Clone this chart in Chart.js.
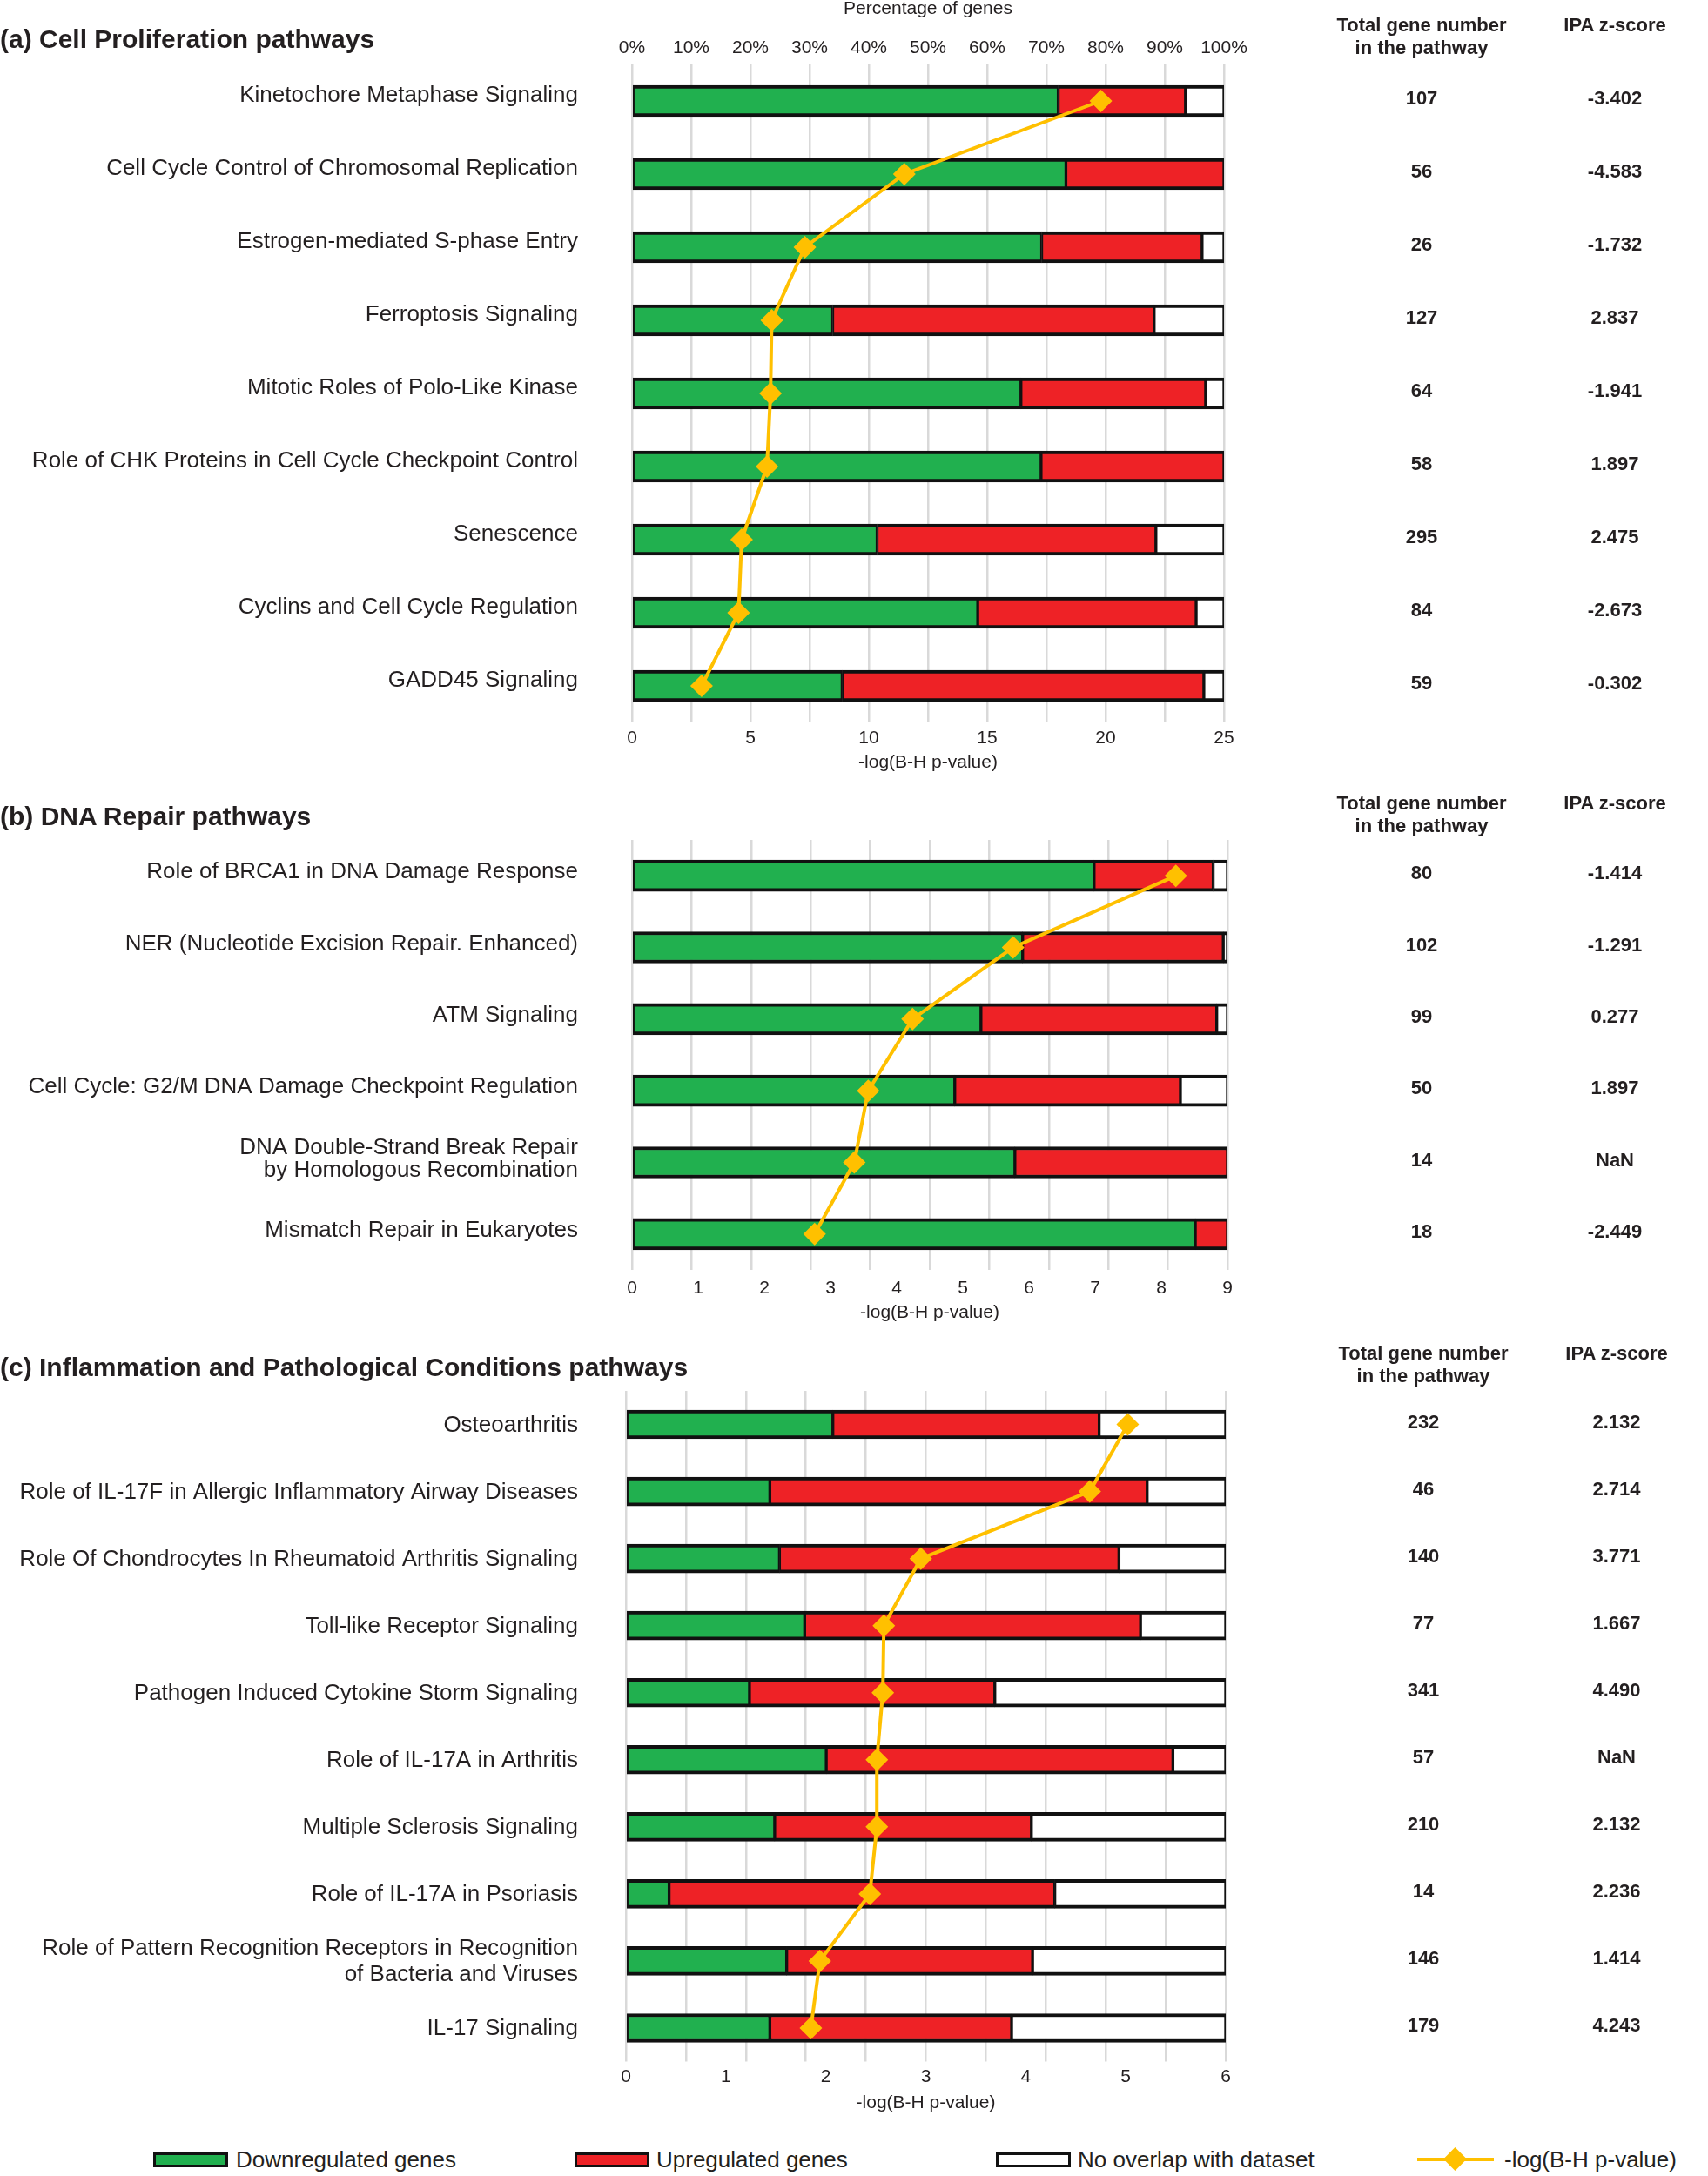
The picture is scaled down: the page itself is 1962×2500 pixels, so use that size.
<!DOCTYPE html>
<html>
<head>
<meta charset="utf-8">
<script src="https://cdn.jsdelivr.net/npm/chart.js@4.4.1/dist/chart.umd.min.js"></script>
<style>
html,body{margin:0;padding:0;background:#fff;}
body{width:1962px;height:2500px;position:relative;overflow:hidden;font-family:"Liberation Sans",Arial,sans-serif;color:#231f20;}
canvas{position:absolute;left:0;}
.title{position:absolute;left:0;font-weight:bold;font-size:30px;line-height:30px;white-space:nowrap;}
.hdr{position:absolute;font-weight:bold;font-size:22px;line-height:26px;text-align:center;white-space:nowrap;transform:translateX(-50%);}
.leg{position:absolute;top:2468px;font-size:26px;line-height:26px;white-space:nowrap;}
.box{position:absolute;top:2473px;width:86px;height:17px;box-sizing:border-box;border:3px solid #111;}
</style>
</head>
<body>
<canvas id="cA" width="1962" height="900" style="top:0px;width:1962px;height:900px"></canvas>
<canvas id="cB" width="1962" height="640" style="top:900px;width:1962px;height:640px"></canvas>
<canvas id="cC" width="1962" height="910" style="top:1540px;width:1962px;height:910px"></canvas>

<div class="title" style="top:30px">(a) Cell Proliferation pathways</div>
<div class="title" style="top:923px">(b) DNA Repair pathways</div>
<div class="title" style="top:1556px">(c) Inflammation and Pathological Conditions pathways</div>

<div class="hdr" style="left:1633px;top:16px">Total gene number<br>in the pathway</div>
<div class="hdr" style="left:1855px;top:16px">IPA z-score</div>
<div class="hdr" style="left:1633px;top:910px">Total gene number<br>in the pathway</div>
<div class="hdr" style="left:1855px;top:910px">IPA z-score</div>
<div class="hdr" style="left:1635px;top:1542px">Total gene number<br>in the pathway</div>
<div class="hdr" style="left:1857px;top:1542px">IPA z-score</div>

<div class="box" style="left:176px;background:#21b04f"></div>
<div class="leg" style="left:271px">Downregulated genes</div>
<div class="box" style="left:660px;background:#ee2226"></div>
<div class="leg" style="left:754px">Upregulated genes</div>
<div class="box" style="left:1144px;background:#fff"></div>
<div class="leg" style="left:1238px">No overlap with dataset</div>
<div style="position:absolute;left:1628px;top:2479px;width:88px;height:4px;background:#ffc000"></div>
<div style="position:absolute;left:1662px;top:2471px;width:19px;height:19px;background:#ffc000;transform:rotate(45deg)"></div>
<div class="leg" style="left:1728px">-log(B-H p-value)</div>

<script>
// ---------- Panel (a) data ----------
const catsA = ['Kinetochore Metaphase Signaling','Cell Cycle Control of Chromosomal Replication','Estrogen-mediated S-phase Entry','Ferroptosis Signaling','Mitotic Roles of Polo-Like Kinase','Role of CHK Proteins in Cell Cycle Checkpoint Control','Senescence','Cyclins and Cell Cycle Regulation','GADD45 Signaling'];
const downA = [72.0, 73.3, 69.2, 33.9, 65.7, 69.1, 41.4, 58.4, 35.5];
const upA   = [21.5, 26.7, 27.1, 54.3, 31.2, 30.9, 47.1, 36.9, 61.1];
const noneA = [6.5, 0, 3.7, 11.8, 3.1, 0, 11.5, 4.7, 3.4];
const logpA = [19.8, 11.5, 7.3, 5.9, 5.85, 5.7, 4.63, 4.5, 2.94];
const totalA = [107, 56, 26, 127, 64, 58, 295, 84, 59];
const zA = ['-3.402','-4.583','-1.732','2.837','-1.941','1.897','2.475','-2.673','-0.302'];

// ---------- Panel (b) data ----------
const catsB = ['Role of BRCA1 in DNA Damage Response','NER (Nucleotide Excision Repair. Enhanced)','ATM Signaling','Cell Cycle: G2/M DNA Damage Checkpoint Regulation',['DNA Double-Strand Break Repair','by Homologous Recombination'],'Mismatch Repair in Eukaryotes'];
const downB = [77.6, 65.6, 58.6, 54.2, 64.3, 94.6];
const upB   = [20.0, 33.7, 39.6, 37.9, 35.7, 5.4];
const noneB = [2.4, 0.7, 1.8, 7.9, 0, 0];
const logpB = [8.22, 5.76, 4.24, 3.57, 3.36, 2.76];
const totalB = [80, 102, 99, 50, 14, 18];
const zB = ['-1.414','-1.291','0.277','1.897','NaN','-2.449'];

// ---------- Panel (c) data ----------
const catsC = ['Osteoarthritis','Role of IL-17F in Allergic Inflammatory Airway Diseases','Role Of Chondrocytes In Rheumatoid Arthritis Signaling','Toll-like Receptor Signaling','Pathogen Induced Cytokine Storm Signaling','Role of IL-17A in Arthritis','Multiple Sclerosis Signaling','Role of IL-17A in Psoriasis',['Role of Pattern Recognition Receptors in Recognition','of Bacteria and Viruses'],'IL-17 Signaling'];
const downC = [34.5, 24.0, 25.6, 29.8, 20.6, 33.4, 24.8, 7.2, 26.8, 24.0];
const upC   = [44.4, 62.9, 56.6, 56.0, 40.9, 57.8, 42.8, 64.3, 41.0, 40.3];
const noneC = [21.1, 13.1, 17.8, 14.2, 38.5, 8.8, 32.4, 28.5, 32.2, 35.7];
const logpC = [5.02, 4.64, 2.95, 2.58, 2.57, 2.51, 2.51, 2.44, 1.94, 1.85];
const totalC = [232, 46, 140, 77, 341, 57, 210, 14, 146, 179];
const zC = ['2.132','2.714','3.771','1.667','4.490','NaN','2.132','2.236','1.414','4.243'];

const pctTicks = [0,10,20,30,40,50,60,70,80,90,100];

const FONT = '"Liberation Sans", Arial, sans-serif';
const TXT = '#231f20';
const GREEN = '#21b04f', RED = '#ee2226', GOLD = '#ffc000';

const sideColumns = {
  id: 'sideColumns',
  afterDraw(chart, args, o) {
    const ctx = chart.ctx, y = chart.scales.y;
    ctx.save();
    ctx.font = 'bold 22px ' + FONT;
    ctx.fillStyle = TXT;
    ctx.textAlign = 'center';
    ctx.textBaseline = 'middle';
    o.totals.forEach((t, i) => {
      const py = y.getPixelForValue(i) - 2;
      ctx.fillText(String(t), o.x1, py);
      ctx.fillText(o.z[i], o.x2, py);
    });
    ctx.restore();
  }
};

function makePanel(id, p) {
  const bw = {top: 4, bottom: 4, left: 2, right: 2};
  const barDs = (label, data, color) => ({
    type: 'bar', label, data, backgroundColor: color, borderColor: '#111',
    borderWidth: bw, borderSkipped: false, barThickness: p.barT,
    xAxisID: 'x', yAxisID: 'y', stack: 's', order: 1
  });
  new Chart(document.getElementById(id), {
    data: {
      labels: p.cats,
      datasets: [
        barDs('Downregulated genes', p.down, GREEN),
        barDs('Upregulated genes', p.up, RED),
        barDs('No overlap with dataset', p.none, '#ffffff'),
        {
          type: 'line', label: '-log(B-H p-value)', data: p.logp,
          xAxisID: 'x2', yAxisID: 'y', order: 0,
          borderColor: GOLD, borderWidth: 4, tension: 0,
          pointStyle: 'rectRot', pointRadius: 13, pointBackgroundColor: GOLD,
          pointBorderColor: GOLD, pointBorderWidth: 0
        }
      ]
    },
    options: {
      indexAxis: 'y',
      responsive: false,
      animation: false,
      devicePixelRatio: 1,
      layout: {padding: {left: 0, right: p.padR, top: 0, bottom: p.padB}},
      plugins: {
        legend: {display: false},
        tooltip: {enabled: false},
        sideColumns: {totals: p.totals, z: p.z, x1: p.colX1, x2: p.colX2}
      },
      scales: {
        x: {
          type: 'linear', position: 'top', stacked: true, min: 0, max: 100,
          afterBuildTicks: s => { s.ticks = pctTicks.map(v => ({value: v})); },
          afterFit: s => { s.height = p.topH; },
          grid: {color: '#d9d9d9', lineWidth: 2.5, drawTicks: false},
          border: {display: false},
          ticks: {display: p.showPct, padding: 6, color: TXT, font: {family: FONT, size: 21},
                  callback: v => v + '%'},
          title: {display: p.showPct, text: 'Percentage of genes', color: TXT,
                  font: {family: FONT, size: 21, lineHeight: 1}, padding: {top: 0, bottom: 0}}
        },
        x2: {
          type: 'linear', position: 'bottom', min: 0, max: p.logMax,
          afterBuildTicks: s => { s.ticks = p.logTicks.map(v => ({value: v})); },
          afterFit: s => { s.height = 60; },
          grid: {display: false, drawTicks: false},
          border: {display: false},
          ticks: {padding: p.tickPad, color: TXT, font: {family: FONT, size: 21}},
          title: {display: true, text: '-log(B-H p-value)', color: TXT,
                  font: {family: FONT, size: 21, lineHeight: 1}, padding: {top: 0, bottom: p.titlePadB}}
        },
        y: {
          type: 'category', stacked: true, offset: true,
          afterFit: s => { s.width = p.left; },
          grid: {display: false, drawTicks: true, tickLength: p.labPad},
          border: {display: false},
          ticks: {padding: 0, labelOffset: p.labOff, color: TXT,
                  font: {family: FONT, size: 26, lineHeight: p.labLH}, autoSkip: false}
        }
      }
    },
    plugins: [sideColumns]
  });
}

makePanel('cA', {cats: catsA, down: downA, up: upA, none: noneA, logp: logpA, totals: totalA, z: zA,
  logMax: 25, logTicks: [0,5,10,15,20,25], showPct: true, topH: 74, padR: 1962 - 1406, padB: 10,
  left: 726, labPad: 62, labOff: -6, labLH: 1.0, barT: 36, tickPad: 6, titlePadB: 3, colX1: 1633, colX2: 1855});
makePanel('cB', {cats: catsB, down: downB, up: upB, none: noneB, logp: logpB, totals: totalB, z: zB,
  logMax: 9, logTicks: [0,1,2,3,4,5,6,7,8,9], showPct: false, topH: 65, padR: 1962 - 1410, padB: 21,
  left: 726, labPad: 62, labOff: -4, labLH: 1.0, barT: 36, tickPad: 9, titlePadB: 0, colX1: 1633, colX2: 1855});
makePanel('cC', {cats: catsC, down: downC, up: upC, none: noneC, logp: logpC, totals: totalC, z: zC,
  logMax: 6, logTicks: [0,1,2,3,4,5,6], showPct: false, topH: 58, padR: 1962 - 1408, padB: 21.5,
  left: 719, labPad: 55, labOff: 1, labLH: 1.15, barT: 33, tickPad: 5, titlePadB: 1.5, colX1: 1635, colX2: 1857});
</script>
</body>
</html>
